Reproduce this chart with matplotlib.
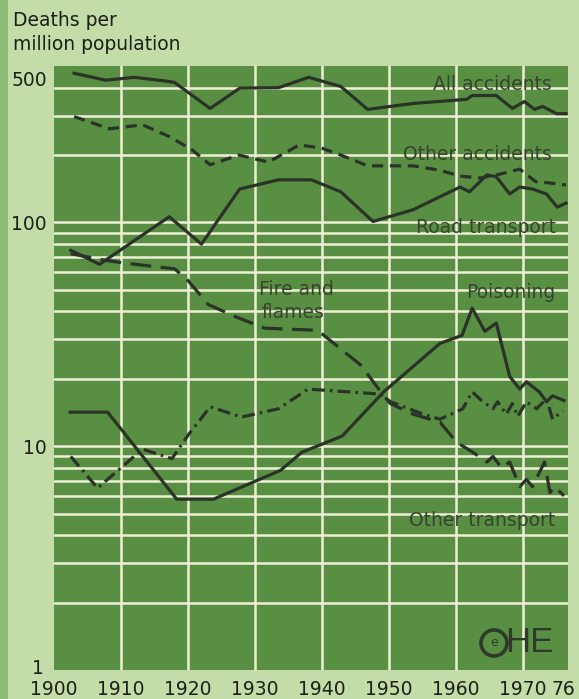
import matplotlib
matplotlib.use("Agg")
import matplotlib.pyplot as plt
import matplotlib.transforms as mtransforms
from matplotlib.patches import Rectangle, Circle

# ---------------- data ----------------
all_years = [1903, 1907.7, 1912, 1917, 1918, 1923.3, 1927.7, 1933.5, 1938, 1942.8,
             1946.8, 1953.6, 1961.6, 1962.4, 1966, 1968.4, 1970.2, 1971.7, 1972.9, 1975, 1976.4]
all_vals = [464, 432, 445, 427, 422, 323, 398, 400, 445, 405,
            320, 340, 355, 369, 369, 323, 347, 320, 330, 306, 306]

oth_acc_years = [1903, 1908.3, 1913.2, 1917.2, 1920.6, 1923.3, 1927.6, 1932, 1936.6, 1939.9,
                 1942.8, 1946.8, 1953.6, 1957.6, 1960.6, 1963.6, 1966, 1969.5, 1971.9, 1974, 1976.4]
oth_acc_vals = [297, 262, 273, 242, 211, 181, 200, 186, 222, 215,
                200, 179, 179, 171, 161, 158, 163, 173, 152, 150, 147]

road_years = [1902.5, 1906.8, 1917.2, 1922, 1927.7, 1933.5, 1938.4, 1942.8, 1947.6, 1953.6,
              1960.6, 1962, 1964.6, 1966, 1968, 1969.5, 1971.4, 1973.5, 1975.1, 1976.4]
road_vals = [75, 65, 106, 80, 141, 155, 155, 137, 101, 114,
             144, 137, 163, 160, 134, 144, 141, 134, 117, 122]

fire_years = [1902.5, 1907.3, 1910.2, 1918, 1920, 1923, 1927, 1931.4, 1938.8, 1940.1,
              1945.8, 1949.2, 1950.2, 1953.6, 1957.6, 1960.1, 1962.5, 1964.6, 1965.5, 1966.8,
              1968, 1969.5, 1970.5, 1971.4, 1973.2, 1974, 1974.7, 1976.1]
fire_vals = [72.5, 68, 66, 62, 55, 43, 38, 33.7, 33, 31.6,
             23, 16.8, 15.5, 13.9, 12.8, 10.4, 9.4, 8.5, 9, 8.0,
             8.5, 6.6, 7.1, 6.6, 8.5, 6.2, 6.6, 6.0]

pois_years = [1902.4, 1908, 1918.3, 1923.8, 1933.8, 1937, 1943, 1949.2, 1957.6, 1960.9,
              1962.4, 1964.3, 1966, 1968, 1969.5, 1970.5, 1972.4, 1973.5, 1974.4, 1976.1]
pois_vals = [14.2, 14.2, 5.8, 5.8, 7.8, 9.4, 11.1, 17.5, 28.8, 31.3,
             41.4, 32.6, 35.5, 20.5, 18, 19.4, 17.5, 15.8, 16.8, 16]

otr_years = [1902.5, 1906.5, 1913.2, 1917.6, 1920.1, 1923.3, 1928, 1933.5, 1937.9, 1948.7,
             1950.2, 1955.1, 1957.6, 1961, 1962.4, 1963.8, 1965.5, 1966.2, 1967.5, 1968.4,
             1969.2, 1970.5, 1972, 1973.5, 1974.4, 1975.9]
otr_vals = [9.0, 6.5, 9.7, 8.8, 11.3, 15, 13.5, 14.7, 18, 17.1,
            15.8, 13.9, 13.2, 14.7, 17.5, 16, 14.7, 15.8, 13.9, 15.5,
            13.6, 15.8, 14.7, 16.3, 13.2, 14.4]

x_ticks = [1900, 1910, 1920, 1930, 1940, 1950, 1960, 1970, 1976]
x_labels = ["1900", "1910", "1920", "1930", "1940", "1950", "1960", "1970", "76"]
y_ticks = [1, 10, 100, 500]
y_labels = ["1", "10", "100", "500"]

# ---------------- style ----------------
W, H = 579, 699
FIG_BG = "#c4dca8"
STRIP = "#8dbd76"
PLOT_BG = "#588f43"
GRID = "#eef0d6"
LINE = "#2b3227"
LABEL = "#37432f"
FONT = "DejaVu Sans"

fig = plt.figure(figsize=(W / 100, H / 100), dpi=100)
fig.patch.set_facecolor(FIG_BG)
fig.patches.append(Rectangle((0, 0), 8 / W, 1, transform=fig.transFigure,
                             facecolor=STRIP, edgecolor="none", zorder=0))

def fx(px):
    return px / W

def fy(py):
    return 1 - py / H

left, right, top, bottom = 54, 568, 66, 670
ax = fig.add_axes([fx(left), fy(bottom), (right - left) / W, (bottom - top) / H])
ax.set_facecolor(PLOT_BG)
ax.set_yscale("log")
ax.set_xlim(1900, 1976.7)
ax.set_ylim(1, 500)
for s in ax.spines.values():
    s.set_visible(False)

# grid
for yr in range(1910, 1971, 10):
    ax.axvline(yr, color=GRID, lw=1.8, zorder=1)
for dec in [1, 10, 100]:
    for m in range(1, 10):
        v = dec * m
        if 1 < v < 500:
            ax.axhline(v, color=GRID, lw=1.8, zorder=1)

lw = 2.3
ax.plot(all_years, all_vals, color=LINE, lw=lw, zorder=3)
ax.plot(oth_acc_years, oth_acc_vals, color=LINE, lw=lw, linestyle=(0, (3.5, 2.1)), zorder=3)
ax.plot(road_years, road_vals, color=LINE, lw=lw, zorder=3)
ax.plot(fire_years, fire_vals, color=LINE, lw=lw, linestyle=(0, (6.5, 3.0)), zorder=3)
ax.plot(pois_years, pois_vals, color=LINE, lw=lw, zorder=3)
ax.plot(otr_years, otr_vals, color=LINE, lw=lw, linestyle=(0, (4.0, 1.6, 0.8, 1.6)), zorder=3)

# ticks
ax.set_xticks(x_ticks)
ax.set_xticklabels(x_labels, fontsize=13.5, family=FONT, color="#1c1f1a")
ax.set_yticks(y_ticks)
ax.set_yticklabels(y_labels, fontsize=13.5, family=FONT, color="#1c1f1a")
ax.yaxis.set_minor_locator(matplotlib.ticker.NullLocator())
ax.tick_params(axis="both", length=0)
ax.tick_params(axis="x", pad=7)
ax.tick_params(axis="y", pad=5)
ylabs = ax.get_yticklabels()
ylabs[0].set_transform(ylabs[0].get_transform() + mtransforms.ScaledTranslation(-3 / 100, 3 / 100, fig.dpi_scale_trans))
ylabs[-1].set_transform(ylabs[-1].get_transform() + mtransforms.ScaledTranslation(0, -12 / 100, fig.dpi_scale_trans))

# axis title
fig.text(fx(13), fy(20), "Deaths per", fontsize=13.5, family=FONT, color="#1c1f1a", va="center", ha="left")
fig.text(fx(13), fy(45), "million population", fontsize=13.5, family=FONT, color="#1c1f1a", va="center", ha="left")

# series labels
lab_kw = dict(fontsize=13.5, family=FONT, color=LABEL, va="center", zorder=4)
fig.text(fx(552), fy(85), "All accidents", ha="right", **lab_kw)
fig.text(fx(552), fy(154), "Other accidents", ha="right", **lab_kw)
fig.text(fx(556), fy(228), "Road transport", ha="right", **lab_kw)
fig.text(fx(555), fy(293), "Poisoning", ha="right", **lab_kw)
fig.text(fx(259), fy(289), "Fire and", ha="left", **lab_kw)
fig.text(fx(262), fy(312), "flames", ha="left", **lab_kw)
fig.text(fx(555), fy(520), "Other transport", ha="right", **lab_kw)

# logo
fig.patches.append(Circle((4.94, (H - 643) / 100), 0.13, transform=fig.dpi_scale_trans,
                          fill=False, edgecolor="#2f3a2a", lw=2.6, zorder=5))
fig.text(fx(494), fy(643), "e", fontsize=9, family=FONT, color="#2f3a2a",
         ha="center", va="center", zorder=5)
fig.text(fx(505), fy(643), "HE", fontsize=25, family="Liberation Sans", color="#2f3a2a",
         ha="left", va="center", zorder=5)

fig.savefig("out.png", dpi=100, facecolor=FIG_BG)
